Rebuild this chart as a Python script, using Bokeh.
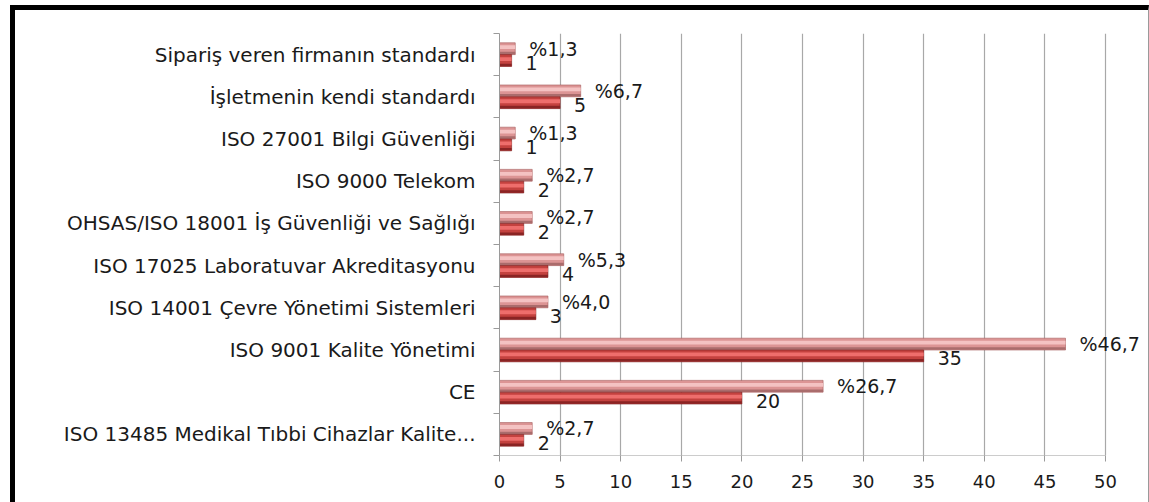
from bokeh.plotting import figure
from bokeh.layouts import column
from bokeh.models import FixedTicker, ColumnDataSource, LabelSet
from bokeh.transform import dodge
from bokeh.core.properties import value
from bokeh.embed import file_html
from bokeh.resources import INLINE

# Data (bottom to top)
categories = [
    "ISO 13485 Medikal Tıbbi Cihazlar Kalite...",
    "CE",
    "ISO 9001 Kalite Yönetimi",
    "ISO 14001 Çevre Yönetimi Sistemleri",
    "ISO 17025 Laboratuvar Akreditasyonu",
    "OHSAS/ISO 18001 İş Güvenliği ve Sağlığı",
    "ISO 9000 Telekom",
    "ISO 27001 Bilgi Güvenliği",
    "İşletmenin kendi standardı",
    "Sipariş veren firmanın standardı",
]
percents = [2.7, 26.7, 46.7, 4.0, 5.3, 2.7, 2.7, 1.3, 6.7, 1.3]
counts = [2, 20, 35, 3, 4, 2, 2, 1, 5, 1]
x_ticks = [0, 5, 10, 15, 20, 25, 30, 35, 40, 45, 50]

pos = list(range(len(categories)))
src = ColumnDataSource(dict(
    y=pos,
    pct=percents,
    cnt=counts,
    pct_lbl=["%" + f"{v:.1f}".replace(".", ",") for v in percents],
    cnt_lbl=[str(c) for c in counts],
    y_pct=[v + 0.14 for v in pos],
    y_cnt=[v - 0.2 for v in pos],
))

W, H = 1133, 492
x_end = x_ticks[-1] * 647 / 606  # white room right of the last gridline for labels
p = figure(width=W, height=H, output_backend="svg", toolbar_location=None,
           x_range=(0, x_end), y_range=(-0.5, len(categories) - 0.5),
           min_border_left=484, min_border_top=23, min_border_bottom=47,
           min_border_right=2)
p.outline_line_color = None
p.background_fill_color = "white"

BH = 0.28
# pink (percent) bars: base, highlight, dark bottom edge
p.hbar(y=dodge("y", 0.14, range=p.y_range), right="pct", left=0, height=BH,
       source=src, fill_color="#dc9494", line_color="#a45a5a", line_width=0.6)
p.hbar(y=dodge("y", 0.175, range=p.y_range), right="pct", left=0, height=0.09,
       source=src, fill_color="#f4c2c2", line_color=None)
p.hbar(y=dodge("y", 0.035, range=p.y_range), right="pct", left=0, height=0.06,
       source=src, fill_color="#aa6c6c", line_color=None)
# red (count) bars
p.hbar(y=dodge("y", -0.14, range=p.y_range), right="cnt", left=0, height=BH,
       source=src, fill_color="#c4423f", line_color="#7a1e1e", line_width=0.6)
p.hbar(y=dodge("y", -0.105, range=p.y_range), right="cnt", left=0, height=0.09,
       source=src, fill_color="#ee6e6c", line_color=None)
p.hbar(y=dodge("y", -0.245, range=p.y_range), right="cnt", left=0, height=0.06,
       source=src, fill_color="#8a2424", line_color=None)

# bottom axis line only up to the last tick
p.segment(x0=[x_ticks[0]], x1=[x_ticks[-1]], y0=[-0.5], y1=[-0.5],
          line_color="#9a9a9a", line_width=1.2)

# labels
p.add_layout(LabelSet(x="pct", y="y_pct", text="pct_lbl", source=src,
                      x_offset=14, text_baseline="middle", text_align="left",
                      text_font=value("DejaVu Sans"), text_font_size=value("19px"),
                      text_color="#1a1a1a"))
p.add_layout(LabelSet(x="cnt", y="y_cnt", text="cnt_lbl", source=src,
                      x_offset=14, text_baseline="middle", text_align="left",
                      text_font=value("DejaVu Sans"), text_font_size=value("19px"),
                      text_color="#1a1a1a"))

# axes
p.xaxis.ticker = FixedTicker(ticks=x_ticks)
p.xaxis.axis_line_color = None
p.xaxis.major_tick_line_color = "#9a9a9a"
p.xaxis.major_tick_out = 6
p.xaxis.major_tick_in = 0
p.xaxis.minor_tick_line_color = None
p.xaxis.major_label_text_font = "DejaVu Sans"
p.xaxis.major_label_text_font_size = "18px"
p.xaxis.major_label_text_color = "#1a1a1a"
p.xaxis.major_label_standoff = 13

p.yaxis.ticker = FixedTicker(ticks=pos, minor_ticks=[i - 0.5 for i in range(len(categories) + 1)])
p.yaxis.major_label_overrides = {i: c for i, c in enumerate(categories)}
p.yaxis.axis_line_color = "#9a9a9a"
p.yaxis.major_tick_line_color = None
p.yaxis.minor_tick_line_color = "#9a9a9a"
p.yaxis.minor_tick_out = 6
p.yaxis.minor_tick_in = 0
p.yaxis.major_label_text_font = "DejaVu Sans"
p.yaxis.major_label_text_font_size = "20px"
p.yaxis.major_label_text_color = "#1a1a1a"
p.yaxis.major_label_standoff = 18

p.xgrid.ticker = FixedTicker(ticks=x_ticks)
p.xgrid.grid_line_color = "#a8a8a8"
p.xgrid.grid_line_width = 1.2
p.ygrid.grid_line_color = None

layout = column(p, styles={"border-top": "5px solid black",
                           "border-left": "5px solid black",
                           "border-right": "1px solid #9a9a9a",
                           "margin-top": "5px", "margin-left": "10px"})

open("out.html", "w").write(file_html(layout, INLINE))
